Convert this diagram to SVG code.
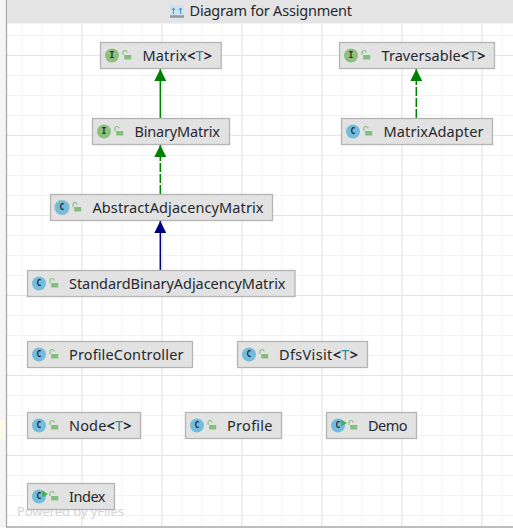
<svg xmlns="http://www.w3.org/2000/svg" width="513" height="528" viewBox="0 0 513 528">
<defs>
<marker id="ag" markerUnits="userSpaceOnUse" markerWidth="12" markerHeight="12" refX="12" refY="6" orient="auto"><path d="M0 0L12 6L0 12Z" fill="#008000"/></marker>
<marker id="ab" markerUnits="userSpaceOnUse" markerWidth="12" markerHeight="12" refX="12" refY="6" orient="auto"><path d="M0 0L12 6L0 12Z" fill="#000080"/></marker>
<pattern id="minor" width="20" height="20" patternUnits="userSpaceOnUse" x="1.500" y="15"><path d="M0.500 20V0.500H20" fill="none" stroke="#f2f2f2" stroke-width="1"/></pattern>
<pattern id="major" width="80" height="80" patternUnits="userSpaceOnUse" x="1.500" y="55"><path d="M0.500 80V0.500H80" fill="none" stroke="#e4e4e4" stroke-width="1"/></pattern>
<g id="lock"><path d="M-3.500 0V-2.500A2 2 0 0 1 0.500 -2.500" fill="none" stroke="#83bf7c" stroke-width="1.200"/><rect x="-2.300" y="0" width="7" height="4.500" fill="#83bf7c"/></g>
<g id="ci"><circle r="7" fill="#74bcdc"/><text class="g" y="2.800" fill="#2e5a70">C</text></g>
<g id="ii"><circle r="7" fill="#8ebf7e"/><text class="g" y="2.800" fill="#3c5a34">I</text></g>
<path id="run" d="M0 -6L6 -2.500L0 1Z" fill="#4caf50"/>
</defs>
<style>
text{font-family:"Noto Sans",sans-serif;font-size:14.500px;fill:#25292e}
.g{font-family:"DejaVu Sans Mono",monospace;font-size:8px;font-weight:bold;text-anchor:middle}
.n{fill:#e2e2e2;stroke:#b4b4b4;stroke-width:1.300}
.b{font-weight:bold}
.t{fill:#2f8f9d}
.e{fill:none;stroke-width:1.500}
</style>
<rect width="513" height="528" fill="#ffffff"/>
<rect x="0" y="0" width="6" height="528" fill="#f5f5f5"/>
<rect x="0" y="420" width="6" height="20" fill="#fbfbe8"/>
<rect x="7" y="24" width="506" height="503" fill="url(#minor)"/>
<rect x="7" y="24" width="506" height="503" fill="url(#major)"/>
<path d="M6.500 0V527H513" fill="none" stroke="#a8a8a8" stroke-width="1.300"/>
<g id="header"><rect x="7" y="0" width="506" height="23.500" fill="#e4e4e4"/>
<rect x="170" y="5" width="14" height="13" fill="#cfe3ee"/><path d="M170 16.500H184" stroke="#8e9aa3" stroke-width="2.500"/><path d="M173.500 8V14M180.500 8V14M172 10L173.500 8L175 10M179 10L180.500 8L182 10" fill="none" stroke="#3c9ccf" stroke-width="1"/>
<text x="189.500" y="16" textLength="162.500">Diagram for Assignment</text></g>
<text x="17" y="515.500" textLength="107" style="font-size:13px;fill:#d4d4d4">Powered by yFiles</text>
<g id="connectors">
<path class="e" d="M160.300 118V69" stroke="#008000" marker-end="url(#ag)"/>
<path class="e" d="M160.300 194V145" stroke="#008000" stroke-dasharray="9 2" marker-end="url(#ag)"/>
<path class="e" d="M160.300 270V221" stroke="#000080" marker-end="url(#ab)"/>
<path class="e" d="M416.300 118V69" stroke="#008000" stroke-dasharray="9 2" marker-end="url(#ag)"/>
</g>
<g id="n-matrix"><rect class="n" x="100.500" y="42.500" width="120.700" height="26"/><use href="#ii" x="112" y="55.500"/><use href="#lock" x="126.500" y="55"/><text x="142.500" y="60.500" textLength="69.500">Matrix<tspan class="b">&lt;</tspan><tspan class="t">T</tspan><tspan class="b">&gt;</tspan></text></g>
<g id="n-binarymatrix"><rect class="n" x="92.500" y="118.500" width="137" height="26"/><use href="#ii" x="104" y="131.500"/><use href="#lock" x="118.500" y="131"/><text x="134.500" y="136.500" textLength="85.500">BinaryMatrix</text></g>
<g id="n-traversable"><rect class="n" x="339.500" y="42.500" width="155" height="26"/><use href="#ii" x="351" y="55.500"/><use href="#lock" x="365.500" y="55"/><text x="381.500" y="60.500" textLength="104">Traversable<tspan class="b">&lt;</tspan><tspan class="t">T</tspan><tspan class="b">&gt;</tspan></text></g>
<g id="n-matrixadapter"><rect class="n" x="341.500" y="118.500" width="151" height="26"/><use href="#ci" x="353" y="131.500"/><use href="#lock" x="367.500" y="131"/><text x="383.500" y="136.500" textLength="100">MatrixAdapter</text></g>
<g id="n-abstract"><rect class="n" x="50.500" y="194.500" width="222" height="26"/><circle cx="62" cy="207.500" r="7" fill="none" stroke="#bbbbbb" stroke-width="1.500"/><use href="#ci" x="62" y="207.500"/><use href="#lock" x="76.500" y="207"/><text x="92.500" y="212.500" textLength="171">AbstractAdjacencyMatrix</text></g>
<g id="n-standard"><rect class="n" x="27.500" y="270.500" width="267.500" height="26"/><use href="#ci" x="39" y="283.500"/><use href="#lock" x="53.500" y="283"/><text x="69" y="288.500" textLength="216.500">StandardBinaryAdjacencyMatrix</text></g>
<g id="n-profilecontroller"><rect class="n" x="27.500" y="341.500" width="165" height="26"/><use href="#ci" x="39" y="354.500"/><use href="#lock" x="53.500" y="354"/><text x="69" y="359.500" textLength="114.500">ProfileController</text></g>
<g id="n-dfsvisit"><rect class="n" x="237.500" y="341.500" width="130" height="26"/><use href="#ci" x="249" y="354.500"/><use href="#lock" x="263.500" y="354"/><text x="279" y="359.500" textLength="79">DfsVisit<tspan class="b">&lt;</tspan><tspan class="t">T</tspan><tspan class="b">&gt;</tspan></text></g>
<g id="n-node"><rect class="n" x="27.500" y="412.500" width="113" height="26"/><use href="#ci" x="39" y="425.500"/><use href="#lock" x="53.500" y="425"/><text x="69" y="430.500" textLength="62.500">Node<tspan class="b">&lt;</tspan><tspan class="t">T</tspan><tspan class="b">&gt;</tspan></text></g>
<g id="n-profile"><rect class="n" x="185.500" y="412.500" width="96" height="26"/><use href="#ci" x="197" y="425.500"/><use href="#lock" x="211.500" y="425"/><text x="227" y="430.500" textLength="45.500">Profile</text></g>
<g id="n-demo"><rect class="n" x="326.500" y="412.500" width="90" height="26"/><use href="#ci" x="338" y="425.500"/><use href="#run" x="341" y="425.500"/><use href="#lock" x="352.500" y="425"/><text x="368" y="430.500" textLength="39.500">Demo</text></g>
<g id="n-index"><rect class="n" x="27.500" y="483.500" width="87" height="26"/><use href="#ci" x="39" y="496.500"/><use href="#run" x="42" y="496.500"/><use href="#lock" x="53.500" y="496"/><text x="69" y="501.500" textLength="36.500">Index</text></g>
</svg>
